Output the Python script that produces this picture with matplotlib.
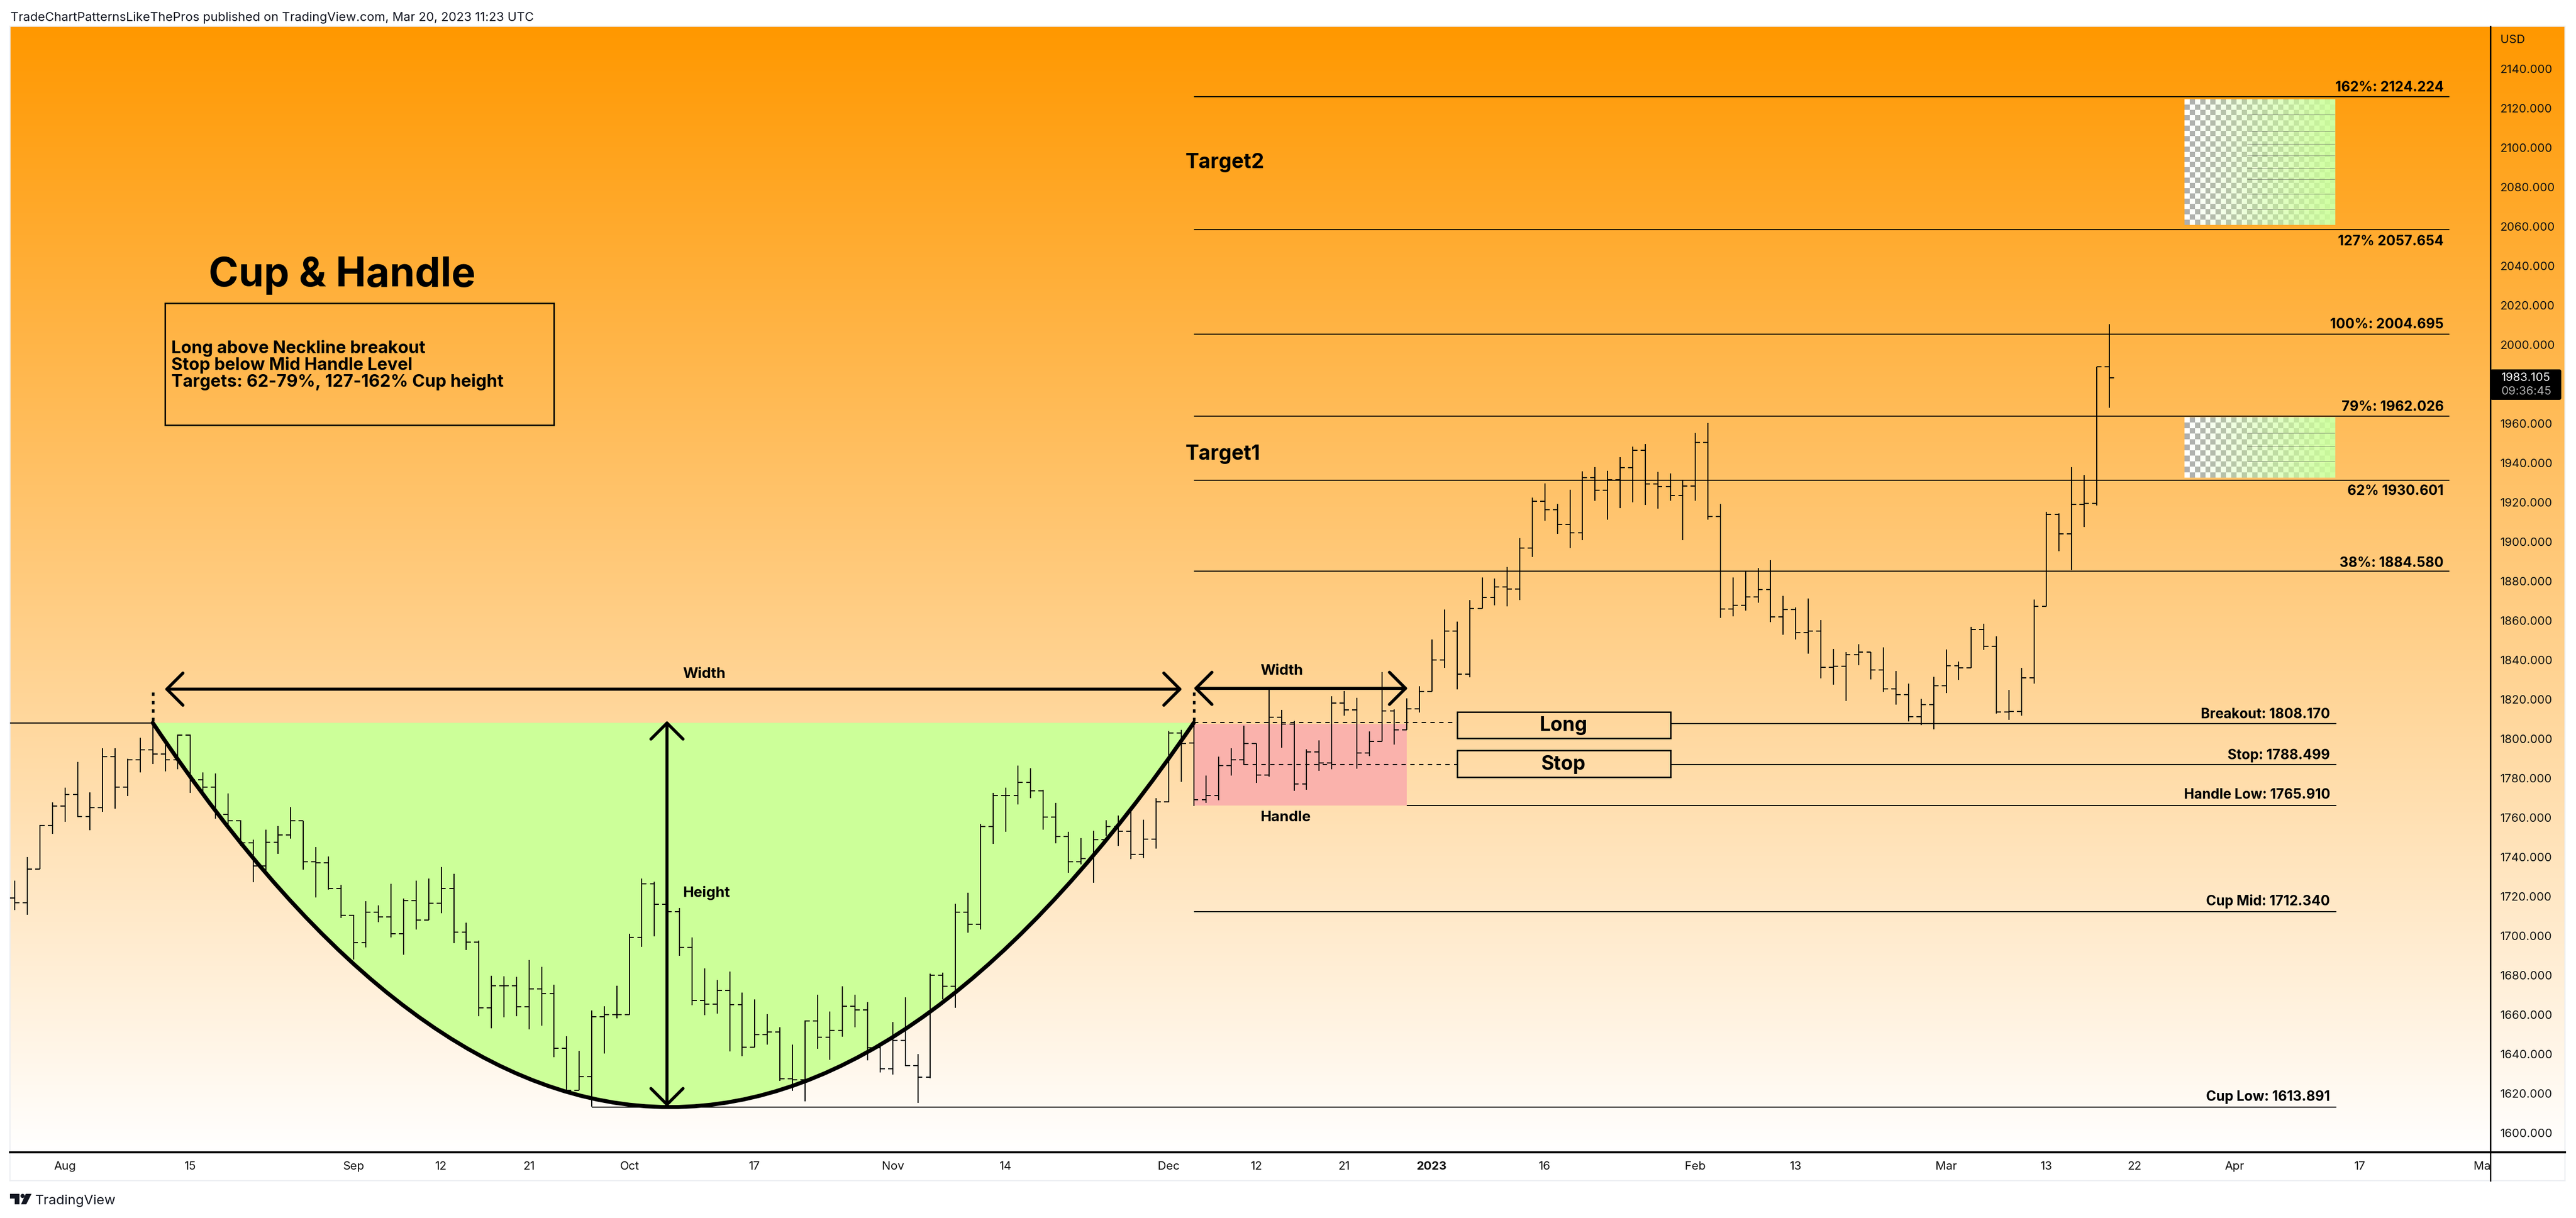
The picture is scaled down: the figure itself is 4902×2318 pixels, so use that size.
import numpy as np
from matplotlib import pyplot as plt
from matplotlib.path import Path
from matplotlib.patches import PathPatch, Rectangle, FancyBboxPatch, Polygon, Circle
from matplotlib.transforms import Bbox

W, H = 4902, 2318
plt.rcParams['font.family'] = ['Inter', 'DejaVu Sans']

# daily bars
opens = [1719.2, 1716.8, 1733.9, 1755.8, 1765.9, 1771.7, 1760.4, 1765.0, 1790.9, 1775.5,
         1789.2, 1794.3, 1792.2, 1789.2, 1801.8, 1779.2, 1775.5, 1761.6, 1758.2, 1747.1,
         1735.5, 1747.4, 1751.2, 1758.2, 1737.5, 1737.0, 1723.8, 1710.3, 1696.5, 1712.0,
         1709.6, 1700.9, 1717.8, 1707.9, 1716.5, 1724.0, 1701.8, 1696.8, 1663.4, 1674.7,
         1674.7, 1664.0, 1672.9, 1670.5, 1642.8, 1621.5, 1628.4, 1658.8, 1660.0, 1660.0,
         1699.0, 1726.2, 1715.8, 1712.2, 1694.1, 1667.2, 1665.3, 1672.3, 1665.0, 1643.3,
         1649.8, 1651.1, 1627.5, 1626.8, 1656.8, 1648.4, 1651.8, 1664.3, 1662.4, 1643.1,
         1632.5, 1646.9, 1634.0, 1628.2, 1680.0, 1674.4, 1712.0, 1705.9, 1755.3, 1771.0,
         1771.2, 1777.9, 1773.4, 1760.3, 1750.3, 1737.5, 1739.2, 1748.8, 1755.5, 1753.1,
         1741.3, 1749.0, 1767.8, 1802.9, 1797.8, 1769.1, 1771.2, 1786.4, 1789.3, 1797.6,
         1781.6, 1810.9, 1807.4, 1777.1, 1793.3, 1787.7, 1818.1, 1814.6, 1792.7, 1798.6,
         1814.1, 1804.5, 1815.1, 1824.0, 1839.8, 1854.7, 1832.8, 1866.1, 1871.7, 1877.0,
         1875.9, 1896.8, 1920.5, 1916.3, 1908.7, 1904.5, 1932.5, 1926.1, 1931.3, 1937.5,
         1946.3, 1929.3, 1928.0, 1923.4, 1928.1, 1950.4, 1912.7, 1865.9, 1867.7, 1871.9,
         1875.6, 1861.9, 1865.6, 1853.8, 1854.7, 1836.3, 1836.6, 1842.6, 1844.0, 1834.9,
         1825.3, 1822.4, 1811.1, 1817.3, 1826.9, 1836.9, 1835.9, 1855.5, 1846.8, 1813.5,
         1813.8, 1830.9, 1867.2, 1913.8, 1904.0, 1918.9, 1919.3, 1988.6]
highs = [1727.8, 1739.9, 1756.2, 1767.6, 1775.1, 1788.1, 1772.8, 1795.0, 1795.0, 1789.9,
         1800.5, 1807.8, 1798.4, 1802.0, 1802.0, 1782.8, 1782.2, 1772.1, 1758.7, 1748.8,
         1753.9, 1755.6, 1765.2, 1758.2, 1745.0, 1740.1, 1725.7, 1710.7, 1717.5, 1715.4,
         1726.4, 1718.9, 1727.8, 1729.1, 1734.8, 1731.5, 1706.5, 1697.5, 1679.7, 1679.5,
         1679.0, 1687.6, 1684.3, 1675.1, 1648.9, 1641.6, 1662.1, 1664.1, 1674.6, 1700.9,
         1729.1, 1727.4, 1719.7, 1714.1, 1699.2, 1683.5, 1677.6, 1681.9, 1671.0, 1667.7,
         1660.2, 1653.5, 1644.8, 1656.9, 1670.1, 1661.6, 1674.4, 1670.1, 1666.2, 1643.6,
         1656.1, 1668.7, 1640.0, 1680.7, 1681.2, 1716.3, 1721.8, 1756.8, 1772.4, 1775.0,
         1786.4, 1785.1, 1774.1, 1767.3, 1752.7, 1749.5, 1753.2, 1758.5, 1760.9, 1764.2,
         1758.9, 1769.8, 1804.0, 1804.4, 1809.5, 1781.3, 1790.9, 1795.1, 1806.6, 1797.6,
         1825.5, 1814.6, 1808.9, 1794.6, 1799.1, 1821.5, 1824.2, 1820.7, 1803.7, 1833.7,
         1814.9, 1820.5, 1826.6, 1850.3, 1865.4, 1859.3, 1870.3, 1881.8, 1881.2, 1887.0,
         1901.9, 1922.2, 1929.5, 1919.2, 1926.3, 1935.6, 1937.9, 1935.9, 1942.8, 1948.3,
         1949.4, 1935.4, 1934.7, 1931.5, 1955.0, 1960.2, 1919.0, 1881.8, 1884.8, 1886.7,
         1890.6, 1872.4, 1866.7, 1871.0, 1860.3, 1845.5, 1843.9, 1847.8, 1844.0, 1846.2,
         1834.2, 1828.0, 1820.3, 1831.3, 1845.2, 1839.2, 1856.6, 1858.4, 1851.9, 1824.8,
         1835.9, 1870.6, 1915.1, 1914.2, 1937.8, 1933.8, 1988.6, 2010.4]
lows = [1712.9, 1710.7, 1733.9, 1751.7, 1757.9, 1760.3, 1753.6, 1762.8, 1764.4, 1770.9,
        1782.8, 1787.1, 1783.4, 1784.5, 1772.4, 1771.0, 1759.4, 1755.3, 1745.4, 1727.1,
        1731.7, 1741.6, 1749.3, 1733.6, 1719.5, 1723.5, 1708.9, 1687.9, 1694.1, 1706.9,
        1699.0, 1690.3, 1703.0, 1707.9, 1711.3, 1696.3, 1692.7, 1659.0, 1653.0, 1658.5,
        1659.0, 1652.5, 1654.4, 1638.3, 1620.9, 1621.4, 1613.3, 1640.2, 1658.1, 1659.9,
        1694.4, 1699.7, 1706.0, 1689.8, 1664.6, 1659.7, 1660.4, 1641.2, 1638.8, 1643.3,
        1644.8, 1626.3, 1621.2, 1615.9, 1642.6, 1636.9, 1648.6, 1653.5, 1636.8, 1630.6,
        1629.4, 1633.9, 1615.2, 1627.7, 1667.6, 1663.4, 1701.6, 1703.0, 1746.7, 1752.6,
        1766.6, 1769.8, 1753.9, 1746.9, 1731.9, 1736.3, 1726.9, 1750.5, 1745.4, 1738.9,
        1739.4, 1744.2, 1767.6, 1778.1, 1765.8, 1767.3, 1768.8, 1781.3, 1786.6, 1777.6,
        1780.8, 1795.5, 1773.6, 1774.1, 1783.7, 1784.5, 1811.7, 1784.8, 1791.2, 1798.6,
        1797.1, 1804.4, 1813.3, 1824.0, 1836.0, 1825.1, 1831.2, 1866.0, 1867.7, 1867.2,
        1870.2, 1892.3, 1910.7, 1903.8, 1896.6, 1900.8, 1920.6, 1911.2, 1917.1, 1919.8,
        1918.7, 1916.6, 1920.6, 1900.8, 1920.6, 1911.2, 1861.3, 1862.1, 1864.9, 1869.1,
        1859.0, 1852.8, 1850.4, 1843.2, 1830.5, 1827.5, 1819.0, 1837.3, 1830.1, 1823.6,
        1817.3, 1808.8, 1806.8, 1804.6, 1823.0, 1829.8, 1835.9, 1845.1, 1812.8, 1809.4,
        1811.7, 1827.8, 1867.2, 1895.1, 1885.6, 1907.4, 1918.3, 1967.9]
closes = [1716.8, 1733.9, 1755.8, 1765.9, 1771.7, 1760.4, 1765.0, 1790.9, 1775.5, 1789.2,
          1794.3, 1792.2, 1789.2, 1801.8, 1779.2, 1775.5, 1761.6, 1758.2, 1747.1, 1735.5,
          1747.4, 1751.2, 1758.2, 1737.5, 1737.0, 1723.8, 1710.3, 1696.5, 1712.0, 1709.6,
          1700.9, 1717.8, 1707.9, 1716.5, 1724.0, 1701.8, 1696.8, 1663.4, 1674.7, 1674.7,
          1664.0, 1672.9, 1670.5, 1642.8, 1621.5, 1628.4, 1658.8, 1660.0, 1660.0, 1699.0,
          1726.2, 1715.8, 1712.2, 1694.1, 1667.2, 1665.3, 1672.3, 1665.0, 1643.3, 1649.8,
          1651.1, 1627.5, 1626.8, 1656.8, 1648.4, 1651.8, 1664.3, 1662.4, 1643.1, 1632.5,
          1646.9, 1634.0, 1628.2, 1680.0, 1674.4, 1712.0, 1705.9, 1755.3, 1771.0, 1771.2,
          1777.9, 1773.4, 1760.3, 1750.3, 1737.5, 1739.2, 1748.8, 1755.5, 1753.1, 1741.3,
          1749.0, 1767.8, 1802.9, 1797.6, 1769.1, 1771.2, 1786.4, 1789.3, 1797.6, 1781.6,
          1810.9, 1807.4, 1777.1, 1793.3, 1787.7, 1818.1, 1814.6, 1792.7, 1798.6, 1814.1,
          1804.5, 1815.1, 1824.0, 1839.8, 1854.7, 1832.8, 1866.1, 1871.7, 1877.0, 1875.9,
          1896.8, 1920.5, 1916.3, 1908.7, 1904.5, 1932.5, 1926.1, 1931.3, 1937.5, 1946.3,
          1929.3, 1928.0, 1923.4, 1928.1, 1950.4, 1912.7, 1865.9, 1867.7, 1871.9, 1875.6,
          1861.9, 1865.6, 1853.8, 1854.7, 1836.3, 1836.6, 1842.6, 1844.0, 1834.9, 1825.3,
          1822.4, 1811.1, 1817.3, 1826.9, 1836.9, 1835.9, 1855.5, 1846.8, 1813.5, 1813.8,
          1830.9, 1867.2, 1913.8, 1904.0, 1918.9, 1919.3, 1988.6, 1983.1]

price_ticks = list(range(1600, 2160, 20))
time_tick_pos = [4, 14, 27, 34, 41, 49, 59, 70, 79, 92, 99, 106, 113, 122, 134, 142, 154, 162, 169, 177, 187, 197]
time_tick_labels = ['Aug', '15', 'Sep', '12', '21', 'Oct', '17', 'Nov', '14', 'Dec', '12', '21',
                    '2023', '16', 'Feb', '13', 'Mar', '13', '22', 'Apr', '17', 'May']

# horizontal levels as drawn
neckline = 1808.0
upper_levels = [2125.9, 2058.3, 2005.2, 1963.6, 1931.0, 1884.9]
level_breakout = 1807.6
level_stop = 1786.9
level_handle_low = 1766.1
level_cup_mid = 1712.3
level_cup_low = 1613.0
zone_lines_top = [2116.6, 2108.3, 2101.9, 2095.8, 2089.4, 2084.0, 2076.5, 2068.6]
zone_lines_low = [1955.0, 1948.5, 1940.7]

fig = plt.figure(figsize=(W / 100, H / 100), dpi=100, facecolor='white')


def pixel_axes(z):
    a = fig.add_axes([0, 0, 1, 1], zorder=z)
    a.set_xlim(0, W)
    a.set_ylim(H, 0)
    a.axis('off')
    a.patch.set_alpha(0)
    return a


back = pixel_axes(0)
front = pixel_axes(2)

# gradient panel
grad = np.linspace(0, 1, 512)[:, None]
top_col = np.array([255, 152, 0]) / 255
img = top_col[None, None, :] * (1 - grad[:, :, None]) + grad[:, :, None]
back.imshow(img, extent=[19, 4881, 2193, 50], aspect='auto', interpolation='bilinear')
back.set_xlim(0, W)
back.set_ylim(H, 0)
for xs, ys in [([19, 19], [50, 2247]), ([4881, 4881], [50, 2247]), ([19, 4881], [2247, 2247]), ([19, 4881], [50, 50])]:
    back.plot(xs, ys, color='#eceef2', lw=1.6)

ax = fig.add_axes([19 / W, 1 - 2193 / H, (4739 - 19) / W, (2193 - 50) / H], zorder=1)
ax.patch.set_alpha(0)
x = np.arange(len(closes))

# cup and handle shading
cup_path = Path([(11, neckline), (52, 1418), (94, neckline)], [Path.MOVETO, Path.CURVE3, Path.CURVE3])
ax.add_patch(PathPatch(cup_path, facecolor='#ccff99', edgecolor='none', zorder=1))
ax.add_patch(Rectangle((94, level_handle_low), 17, 1807.5 - level_handle_low, facecolor='#fab2ac', edgecolor='none', zorder=1))


def checker(x0, x1, p0, p1):
    rows = int(round((p1 - p0) * 3.75 / 10))
    cols = 29
    cells = np.indices((rows, cols)).sum(axis=0) % 2
    base = np.where(cells[:, :, None] == 0, np.array([1.0, 1.0, 1.0]), np.array([0.69, 0.69, 0.69]))
    green = np.array([0.8, 1.0, 0.6])
    blend = np.linspace(0, 0.92, cols)[None, :, None]
    ax.imshow(base * (1 - blend) + green * blend, extent=[x0, x1, p0, p1], aspect='auto',
              interpolation='nearest', zorder=2)


checker(173, 185, 2060.8, 2124.4)
checker(173, 185, 1932.5, 1962.9)
ax.hlines(zone_lines_top, 178, 185, color='#555555', lw=0.7, alpha=0.6, zorder=2)
ax.hlines(zone_lines_low, 178, 185, color='#555555', lw=0.7, alpha=0.6, zorder=2)

# levels
ax.hlines(upper_levels, 94, 194.1, color='black', lw=1.5, zorder=3)
ax.plot([-1, 11], [neckline, neckline], color='black', lw=1.5, zorder=3)
ax.hlines([level_breakout, level_stop], 132, 185.1, color='black', lw=1.5, zorder=3)
ax.hlines(level_handle_low, 111, 185.1, color='black', lw=1.5, zorder=3)
ax.hlines(level_cup_mid, 94, 185.1, color='black', lw=1.5, zorder=3)
ax.hlines(level_cup_low, 46, 185.1, color='black', lw=1.5, zorder=3)
ax.plot([94, 115], [1808.2, 1808.2], color='black', lw=1.5, ls=(0, (4, 4)), zorder=3)
ax.plot([98, 115], [level_stop, level_stop], color='black', lw=1.5, ls=(0, (4, 4)), zorder=3)

# OHLC bars
ax.vlines(x, lows, highs, color='black', lw=1.5, zorder=4)
ax.hlines(opens, x - 0.37, x, color='black', lw=1.5, zorder=4)
ax.hlines(closes, x, x + 0.37, color='black', lw=1.5, zorder=4)

# cup arc, drawn over the bars
ax.add_patch(PathPatch(cup_path, facecolor='none', edgecolor='black', lw=5.5, zorder=5, capstyle='round'))

# dotted stubs and arrows
for bx in [11, 94]:
    ax.plot([bx, bx], [1809, 1824], color='black', lw=3.6, ls=(0, (1.3, 1.9)), zorder=6)


def arrow(a, b):
    ax.annotate('', xy=b, xytext=a, zorder=6,
                arrowprops=dict(arrowstyle='<->,head_length=22,head_width=22', mutation_scale=1, lw=4.2,
                                color='black', shrinkA=0, shrinkB=0, capstyle='round', joinstyle='round'))


arrow((11.95, 1825.1), (93.07, 1825.1))
arrow((94, 1825.5), (111.06, 1825.5))
arrow((52, 1809), (52, 1613.2))

# Long / Stop boxes
ax.add_patch(Rectangle((115, 1800.3), 17, 13.2, facecolor='none', edgecolor='black', lw=2, zorder=6))
ax.add_patch(Rectangle((115, 1780.4), 17, 13.6, facecolor='none', edgecolor='black', lw=2, zorder=6))

ax.set_xlim((19 - 28.2) / 23.866, (4739 - 28.2) / 23.866)
ax.set_ylim(1590.05, 2161.5)
for s in ['top', 'left', 'bottom']:
    ax.spines[s].set_visible(False)
ax.spines['right'].set_linewidth(1.8)
ax.yaxis.tick_right()
ax.set_yticks(price_ticks)
ax.set_yticklabels(['%.3f' % p for p in price_ticks], fontsize=16, color='#111111', va='center_baseline')
ax.tick_params(axis='y', length=0, pad=13.5)
ax.set_xticks(time_tick_pos)
ax.set_xticklabels(time_tick_labels, fontsize=16, color='#111111')
ax.tick_params(axis='x', length=0, pad=12)
for lab in ax.get_xticklabels():
    lab.set_clip_box(Bbox([[0, 0], [4739, H]]))
    lab.set_clip_on(True)
    if lab.get_text() == '2023':
        lab.set_fontweight('bold')

# panel rules
front.plot([19, 4881], [2193, 2193], color='black', lw=2.8)
front.plot([4739, 4739], [50, 2247], color='black', lw=1.8)


def label(px, py, s, size, weight='bold', ha='left', color='black'):
    front.text(px, py, s, fontsize=size, fontweight=weight, ha=ha, va='baseline', color=color)


label(20, 40, 'TradeChartPatternsLikeThePros published on TradingView.com, Mar 20, 2023 11:23 UTC', 17, 'normal', color='#131722')
label(651, 545, 'Cup & Handle', 55.5, ha='center')
front.add_patch(Rectangle((314, 577), 740, 232, facecolor='none', edgecolor='black', lw=2))
label(326, 672, 'Long above Neckline breakout', 23.5)
label(326, 704, 'Stop below Mid Handle Level', 23.5)
label(326, 736, 'Targets: 62-79%, 127-162% Cup height', 23.5)
label(2256, 320, 'Target2', 28)
label(2256, 875, 'Target1', 28)
label(2975, 1391, 'Long', 27, ha='center')
label(2975, 1465, 'Stop', 27, ha='center')
label(1299, 1290, 'Width', 20)
label(1299, 1707, 'Height', 20)
label(2398, 1284, 'Width', 20)
label(2398, 1563, 'Handle', 20)

for py, s in [(174, '162%: 2124.224'), (467, '127% 2057.654'), (625, '100%: 2004.695'), (782, '79%: 1962.026'),
              (942, '62% 1930.601'), (1079, '38%: 1884.580')]:
    label(4650, py, s, 18.8, ha='right')
for py, s in [(1367, 'Breakout: 1808.170'), (1445, 'Stop: 1788.499'), (1520, 'Handle Low: 1765.910'),
              (1723, 'Cup Mid: 1712.340'), (2095, 'Cup Low: 1613.891')]:
    label(4434, py, s, 18.8, ha='right')

label(4758, 82, 'USD', 16, 'normal', color='#111111')

# last price tag
front.add_patch(FancyBboxPatch((4739, 703), 135, 58, boxstyle='round,pad=0,rounding_size=4', facecolor='black', edgecolor='none'))
front.text(4760, 719, '1983.105', fontsize=16, color='white', va='center')
front.text(4760, 745, '09:36:45', fontsize=16, color='#b4b4b4', va='center')

# TradingView mark
front.add_patch(Polygon([(19, 2272), (37, 2272), (37, 2292), (28, 2292), (28, 2281), (19, 2281)], facecolor='#131722', edgecolor='none'))
front.add_patch(Circle((43, 2276), 4, facecolor='#131722', edgecolor='none'))
front.add_patch(Polygon([(49, 2272), (60, 2272), (50, 2292), (40, 2292)], facecolor='#131722', edgecolor='none'))
label(67, 2292, 'TradingView', 18.5, 'normal', color='#131722')

fig.savefig('out.png', dpi=100, facecolor='white')
